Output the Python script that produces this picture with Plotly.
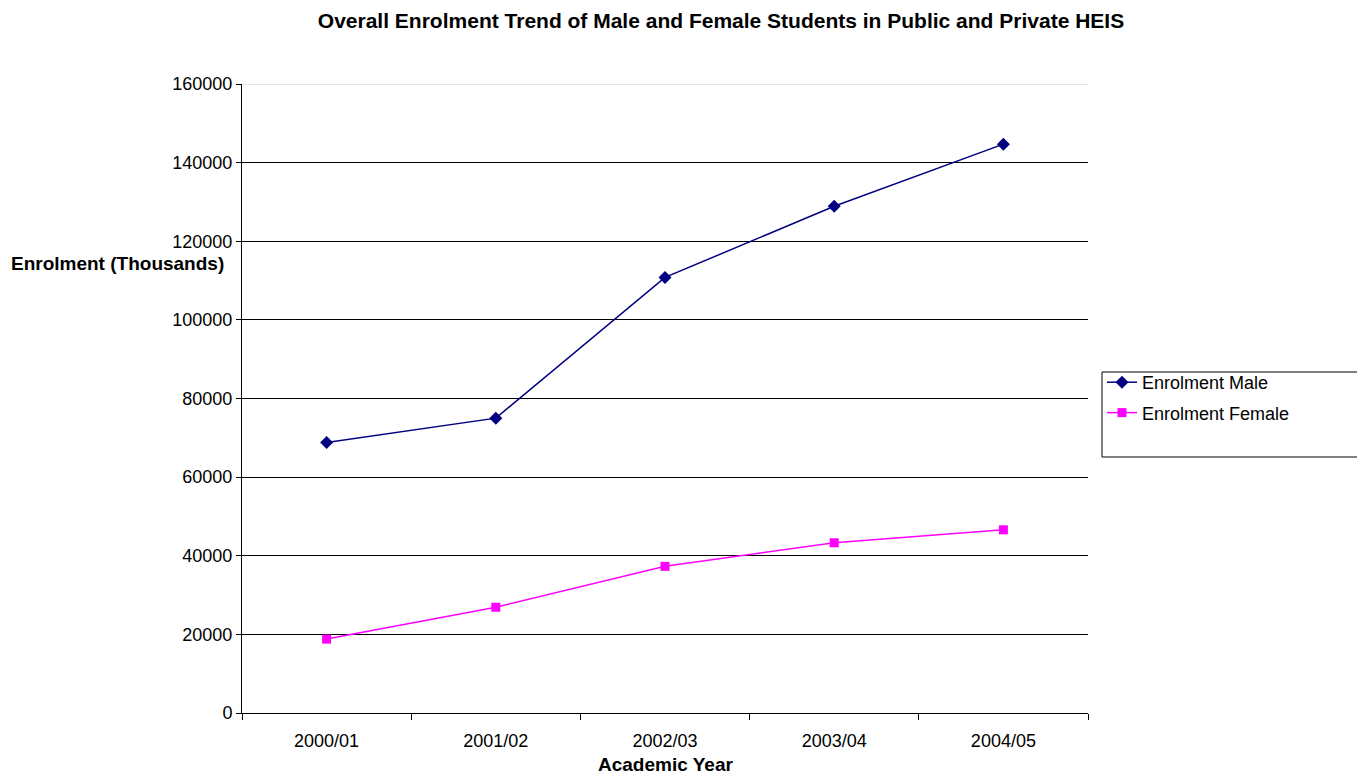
import plotly.graph_objects as go

years = ["2000/01", "2001/02", "2002/03", "2003/04", "2004/05"]
male = [68800, 75000, 110800, 128900, 144700]
female = [18800, 26900, 37300, 43300, 46600]
y_ticks = [0, 20000, 40000, 60000, 80000, 100000, 120000, 140000, 160000]

FONT = "Liberation Sans, Arial, sans-serif"

fig = go.Figure()
fig.add_trace(go.Scatter(
    x=years, y=male, name="Enrolment Male", mode="lines+markers",
    legendgroup="m",
    line=dict(color="#000080", width=1.5),
    marker=dict(symbol="diamond", size=10, color="#000080"),
))
fig.add_trace(go.Scatter(
    x=years, y=female, name="Enrolment Female", mode="lines+markers",
    legendgroup="f",
    line=dict(color="#FF00FF", width=1.5),
    marker=dict(symbol="square", size=9, color="#FF00FF"),
))

fig.update_layout(
    width=1357, height=775,
    margin=dict(l=242, r=269, t=84, b=62, autoexpand=False),
    paper_bgcolor="white", plot_bgcolor="white",
    font=dict(family=FONT, size=18, color="black"),
    title=dict(text="<b>Overall Enrolment Trend of Male and Female Students in Public and Private HEIS</b>",
               x=721 / 1357, xanchor="center", y=1 - 21 / 775, yanchor="middle",
               font=dict(size=21, family=FONT)),
    showlegend=True,
    legend=dict(x=(1102 - 242) / 846, y=(713 - 364) / 629, xanchor="left", yanchor="top",
                bgcolor="rgba(0,0,0,0)", borderwidth=0, traceorder="grouped",
                font=dict(size=18, family=FONT), itemwidth=30, tracegroupgap=4),
    xaxis=dict(
        type="category", range=[-0.5, 4.5], tickson="boundaries",
        ticks="outside", ticklen=6, tickcolor="#000", showline=True,
        linecolor="#000", linewidth=1, showgrid=False, zeroline=False,
        ticklabelstandoff=11, automargin=False,
    ),
    yaxis=dict(
        range=[0, 160000], tickvals=y_ticks, ticktext=[str(v) for v in y_ticks],
        ticks="outside", ticklen=5, tickcolor="#000", showline=True,
        linecolor="#000", linewidth=1, showgrid=True, gridcolor="#000",
        gridwidth=1, zeroline=False, automargin=False,
    ),
    shapes=[
        dict(type="line", xref="paper", yref="y", x0=0, x1=1, y0=160000, y1=160000,
             line=dict(color="#c8c8c8", width=1), layer="above"),
        dict(type="rect", xref="paper", yref="paper",
             x0=(1102 - 242) / 846, x1=(1360 - 242) / 846,
             y0=(713 - 457) / 629, y1=(713 - 372) / 629,
             line=dict(color="#000", width=1), fillcolor="rgba(0,0,0,0)"),
    ],
    annotations=[
        dict(text="<b>Enrolment (Thousands)</b>", xref="paper", yref="paper",
             x=(9 - 242) / 846, y=(713 - 263) / 629, xanchor="left", yanchor="middle",
             showarrow=False, font=dict(size=19, family=FONT)),
        dict(text="<b>Academic Year</b>", xref="paper", yref="paper",
             x=0.5, y=(713 - 764) / 629, xanchor="center", yanchor="middle",
             showarrow=False, font=dict(size=19, family=FONT)),
    ],
)

fig.write_html("out.html")
